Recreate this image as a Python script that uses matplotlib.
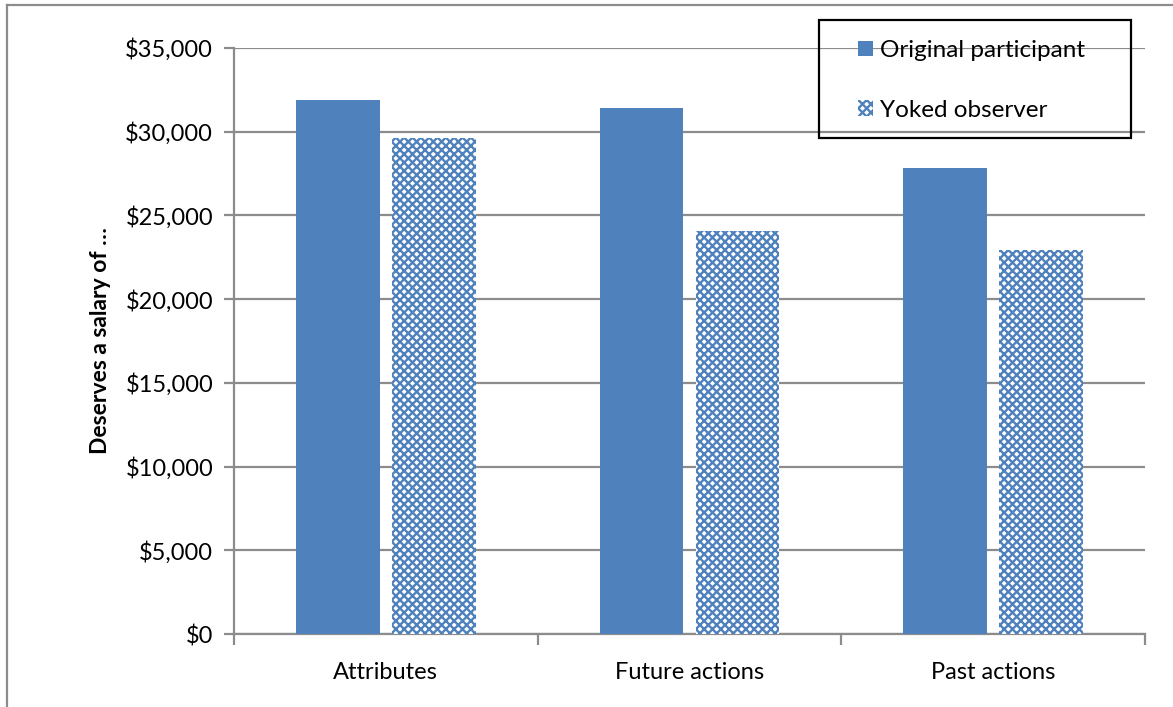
import numpy as np
import matplotlib
matplotlib.use('Agg')
import matplotlib.pyplot as plt
from matplotlib.patches import Patch, Rectangle
from matplotlib.lines import Line2D

plt.rcParams['font.family'] = ['Lato', 'DejaVu Sans']
plt.rcParams['hatch.linewidth'] = 1.7

categories = ['Attributes', 'Future actions', 'Past actions']
original = [31900, 31400, 27850]
yoked = [29600, 24050, 22950]
series_labels = ['Original participant', 'Yoked observer']

BLUE = '#4F81BD'
GRID = '#8C8C8C'
W, H = 1173, 707
FS = 17

fig = plt.figure(figsize=(W / 100, H / 100), dpi=100)
ax = fig.add_axes([234 / W, 1 - 634 / H, (1145 - 234) / W, (634 - 48) / H])

x = np.arange(len(categories))
width = 0.275
offset = 0.158

ax.bar(x - offset, original, width, color=BLUE, edgecolor='none', zorder=3)
ax.bar(x + offset, yoked, width, color='white', edgecolor=BLUE, linewidth=0,
       hatch='xxxx', zorder=3)

ax.set_xlim(-0.5, 2.5)
ax.set_ylim(0, 35000)
ticks = np.arange(0, 35001, 5000)
ax.set_yticks(ticks)
ax.set_yticklabels([f'${v:,.0f}' for v in ticks], fontsize=FS)
ax.yaxis.grid(True, color=GRID, linewidth=1.6, zorder=0)
ax.set_axisbelow(True)

# category labels in the middle, tick marks on the boundaries
ax.set_xticks(x)
ax.set_xticklabels(categories, fontsize=FS)
ax.tick_params(axis='x', length=0, pad=20)
ax.set_xticks(np.arange(-0.5, 3.0, 1.0), minor=True)
ax.tick_params(axis='x', which='minor', length=8, width=1.6, color=GRID, direction='out')
ax.tick_params(axis='y', length=7, width=1.6, color=GRID, pad=8)

for side in ['top', 'right']:
    ax.spines[side].set_visible(False)
for side in ['left', 'bottom']:
    ax.spines[side].set_color(GRID)
    ax.spines[side].set_linewidth(1.6)

ax.set_ylabel('Deserves a salary of …', fontsize=16.5, fontweight='bold', labelpad=10)

# legend entries plus a separate box around them
handles = [Patch(facecolor=BLUE, edgecolor='none'),
           Patch(facecolor='white', edgecolor=BLUE, linewidth=0, hatch='xxxx')]
fig.legend(handles, series_labels, loc='upper left',
           bbox_to_anchor=(858 / W, 1 - 40 / H), fontsize=17.5, frameon=False,
           handlelength=0.62, handleheight=0.62, handletextpad=0.3,
           labelspacing=1.6, borderpad=0, borderaxespad=0)
fig.add_artist(Rectangle((819 / W, 1 - 138 / H), (1131 - 819) / W, (138 - 20) / H,
                         transform=fig.transFigure, facecolor='none',
                         edgecolor='black', linewidth=1.6, zorder=5))

# outer chart border (top and left edges)
fig.add_artist(Line2D([7 / W, 7 / W], [0, 1 - 5 / H], transform=fig.transFigure,
                      color=GRID, linewidth=1.6))
fig.add_artist(Line2D([7 / W, 1], [1 - 5 / H, 1 - 5 / H], transform=fig.transFigure,
                      color=GRID, linewidth=1.6))

fig.savefig('out.png', dpi=100)
